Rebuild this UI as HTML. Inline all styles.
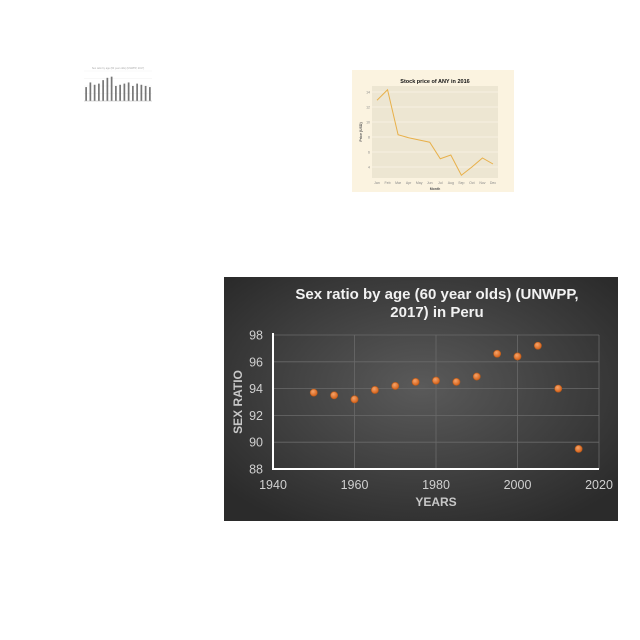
<!DOCTYPE html>
<html><head><meta charset="utf-8"><style>
html,body{margin:0;padding:0;background:#fff;width:640px;height:640px;overflow:hidden;font-family:"Liberation Sans",sans-serif}
svg{position:absolute;left:0;top:0}
</style></head><body>
<svg id="s" width="640" height="640" xmlns="http://www.w3.org/2000/svg">
<defs>
<radialGradient id="bg" cx="50%" cy="45%" r="65%">
<stop offset="0" stop-color="#5a5a5a"/><stop offset="1" stop-color="#2b2b2b"/>
</radialGradient>
<radialGradient id="dot" cx="40%" cy="35%" r="60%">
<stop offset="0" stop-color="#f6a46a"/><stop offset="1" stop-color="#d8661f"/>
</radialGradient>
</defs>
<g id="bars"></g>
<g id="stock"></g>
<g id="main"></g>
</svg>
<script>
// Main chart data
const years=[1950,1955,1960,1965,1970,1975,1980,1985,1990,1995,2000,2005,2010,2015];
const ratios=[93.7,93.5,93.2,93.9,94.2,94.5,94.6,94.5,94.9,96.6,96.4,97.2,94.0,89.5];
const xTicks=[1940,1960,1980,2000,2020];
const yTicks=[88,90,92,94,96,98];
// Stock chart data
const months=["Jan","Feb","Mar","Apr","May","Jun","Jul","Aug","Sep","Oct","Nov","Dec"];
const prices=[12.9,14.3,8.3,7.9,7.6,7.3,5.1,5.6,2.9,4.0,5.2,4.4];
const stockTicks=[4,6,8,10,12,14];
// Bar thumbnail data
const barVals=[6,8,7,7.5,9,10,10.5,6.5,7,7.5,8,6.5,7.5,7,6.5,6];

const NS="http://www.w3.org/2000/svg";
function mk(p,t,a,txt){const e=document.createElementNS(NS,t);for(const k in a)e.setAttribute(k,a[k]);if(txt!==undefined)e.textContent=txt;p.appendChild(e);return e;}

// ---------- main ----------
const M=document.getElementById('main');
const bgR=mk(M,'rect',{x:224,y:277,width:394,height:244,fill:'url(#bg)'});


const X0=273,X1=599,Y0=469,Y1=335;
const sx=v=>X0+(v-1940)/(2020-1940)*(X1-X0);
const sy=v=>Y0-(v-88)/(98-88)*(Y0-Y1);
yTicks.forEach(t=>{
  if(t>88){const l=mk(M,'line',{x1:X0,x2:X1,y1:sy(t),y2:sy(t),stroke:'#6a6a6a','stroke-width':0.8});
  }
  const tx=mk(M,'text',{x:X0-10,y:sy(t)+4.5,'text-anchor':'end','font-size':12.5,fill:'#d0d0d0'},t);
  
});
xTicks.forEach(t=>{
  if(t>1940){const l=mk(M,'line',{x1:sx(t),x2:sx(t),y1:Y1,y2:Y0,stroke:'#6a6a6a','stroke-width':0.8});
  }
  const tx=mk(M,'text',{x:sx(t),y:Y0+20,'text-anchor':'middle','font-size':12.5,fill:'#d0d0d0'},t);
  
});
const ax=mk(M,'path',{d:`M${X0} ${Y1-2}V${Y0}H${X1}`,stroke:'#fff','stroke-width':2,fill:'none'});

years.forEach((y,i)=>{
  const c=mk(M,'circle',{cx:sx(y),cy:sy(ratios[i]),r:3.6,fill:'url(#dot)',stroke:'#b85a1a','stroke-width':0.6});
  
});
const t1=mk(M,'text',{x:437,y:299,'text-anchor':'middle','font-size':15,'font-weight':'bold',fill:'#f2f2f2'},'Sex ratio by age (60 year olds) (UNWPP,');

const t2=mk(M,'text',{x:437,y:317,'text-anchor':'middle','font-size':15,'font-weight':'bold',fill:'#f2f2f2'},'2017) in Peru');

const xt=mk(M,'text',{x:436,y:506,'text-anchor':'middle','font-size':12,'font-weight':'bold',fill:'#c8c8c8'},'YEARS');

const yt=mk(M,'text',{x:0,y:0,'text-anchor':'middle','font-size':12,'font-weight':'bold',fill:'#c8c8c8',transform:'translate(242,402) rotate(-90)'},'SEX RATIO');


// ---------- stock thumbnail ----------
const S=document.getElementById('stock');
const sp=mk(S,'rect',{x:352,y:70,width:162,height:122,fill:'#fbf3e0'});

const PX0=372,PX1=498,PY0=178,PY1=86;
const pa=mk(S,'rect',{x:PX0,y:PY1,width:PX1-PX0,height:PY0-PY1,fill:'#ede6d2'});

const mx=i=>377+i*(493-377)/(months.length-1);
const my=v=>167-(v-4)*7.5;
stockTicks.forEach(t=>{
  const l=mk(S,'line',{x1:PX0,x2:PX1,y1:my(t),y2:my(t),stroke:'#f8f3e6','stroke-width':0.7});
  
  const tx=mk(S,'text',{x:370,y:my(t)+1.5,'text-anchor':'end','font-size':3.5,fill:'#888'},t);
  
});
months.forEach((m,i)=>{
  const tx=mk(S,'text',{x:mx(i),y:184,'text-anchor':'middle','font-size':3.5,fill:'#888'},m);
  
});
const pl=mk(S,'polyline',{points:prices.map((v,i)=>mx(i)+','+my(v)).join(' '),fill:'none',stroke:'#e8b04a','stroke-width':1});

const st=mk(S,'text',{x:435,y:83,'text-anchor':'middle','font-size':5.5,'font-weight':'bold',fill:'#111'},'Stock price of ANY in 2016');

const sxl=mk(S,'text',{x:435,y:190,'text-anchor':'middle','font-size':3.5,'font-weight':'bold',fill:'#555'},'Month');

const syl=mk(S,'text',{x:0,y:0,'text-anchor':'middle','font-size':3.5,'font-weight':'bold',fill:'#555',transform:'translate(362,132) rotate(-90)'},'Price (USD)');


// ---------- bar thumbnail ----------
const B=document.getElementById('bars');
const bt=mk(B,'text',{x:118,y:69,'text-anchor':'middle','font-size':2.5,fill:'#aaa'},'Sex ratio by age (60 year olds) (UNWPP, 2017)');

const BX0=84,BX1=152,BY0=101,BY1=71;
const by=v=>BY0-v/11*(BY0-BY1)*0.85;
[0,2.75,5.5,8.25,11].forEach(g=>{
  const l=mk(B,'line',{x1:BX0,x2:BX1,y1:BY0-g/11*(BY0-BY1),y2:BY0-g/11*(BY0-BY1),stroke:'#eee','stroke-width':0.4});
  
});
const bw=(BX1-BX0)/barVals.length;
barVals.forEach((v,i)=>{
  const r=mk(B,'rect',{x:BX0+i*bw+bw*0.3,y:by(v),width:bw*0.4,height:BY0-by(v),fill:'#777'});
  
});
const ba=mk(B,'line',{x1:BX0,x2:BX1,y1:BY0,y2:BY0,stroke:'#bbb','stroke-width':0.5});

</script>
</body></html>
